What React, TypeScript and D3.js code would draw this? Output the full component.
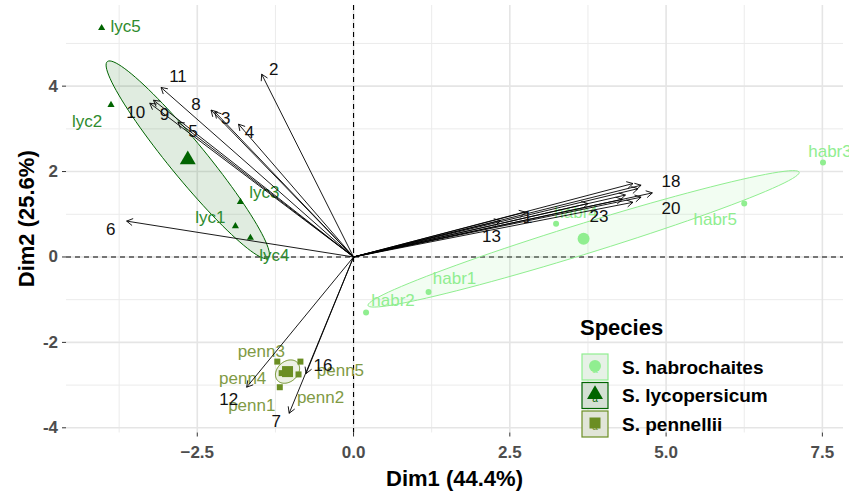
import React from "react";
import * as d3 from "d3";

const W = 849;
const H = 493;

// groups
const species = ["S. habrochaites", "S. lycopersicum", "S. pennellii"];
const speciesColors = ["#90EE90", "#006400", "#6B8E23"];

// individuals (PCA scores)
const indNames = ["habr1", "habr2", "habr3", "habr4", "habr5",
  "lyc1", "lyc2", "lyc3", "lyc4", "lyc5",
  "penn1", "penn2", "penn3", "penn4", "penn5"];
const indGroup = [0, 0, 0, 0, 0, 1, 1, 1, 1, 1, 2, 2, 2, 2, 2];
const indDim1 = [1.2, 0.2, 7.51, 3.24, 6.25, -1.89, -3.88, -1.81, -1.65, -4.03, -1.18, -0.88, -1.22, -1.15, -0.85];
const indDim2 = [-0.82, -1.3, 2.21, 0.78, 1.25, 0.72, 3.56, 1.29, 0.45, 5.36, -3.05, -2.75, -2.45, -2.72, -2.45];

// variables (arrows)
const varNames = ["1", "2", "3", "4", "5", "6", "7", "8", "9", "10", "11", "12",
  "13", "14", "15", "16", "17", "18", "19", "20", "21", "22", "23"];
const varDim1 = [2.75, -1.47, -2.22, -1.84, -2.81, -3.63, -1.03, -2.28, -3.2, -3.26, -3.08, -1.71,
  2.35, 4.35, 4.6, -0.76, 4.55, 4.47, 4.78, 4.47, 4.3, 4.6, 3.75];
const varDim2 = [1.05, 4.28, 3.4, 3.11, 3.16, 0.84, -3.66, 3.44, 3.67, 3.6, 3.97, -3.05,
  0.85, 1.45, 1.68, -2.73, 1.6, 1.72, 1.5, 1.28, 1.35, 1.4, 1.25];

const xTicks = [-2.5, 0, 2.5, 5, 7.5];
const xMinor = [-3.75, -1.25, 1.25, 3.75, 6.25];
const yTicks = [-4, -2, 0, 2, 4];
const yMinor = [-3, -1, 1, 3, 5];

// label offsets in px (repelled label placement)
const indNudge: Record<string, [number, number]> = {
  lyc5: [24, -2], lyc2: [-24, 17], lyc3: [24, -9], lyc1: [-25, -9], lyc4: [24, 18],
  habr3: [7, -11], habr5: [-29, 16], habr4: [20, -11], habr1: [26, -13], habr2: [27, -12],
  penn3: [-16, -10], penn4: [-39, 5], penn1: [-28, 18], penn2: [22, 23], penn5: [40, 9],
};
const varNudge: Record<string, [number, number]> = {
  "1": [2, 5], "2": [12, -5], "3": [11, 7], "4": [11, 8], "5": [15, 9], "6": [-16, 8],
  "7": [-13, 8], "8": [-15, -6], "9": [11, 14], "10": [-14, 9], "11": [17, -11],
  "12": [-18, 12], "13": [-9, 16], "16": [17, -8], "18": [38, -2], "20": [38, 6], "23": [11, 13],
};

const FONT = "'Liberation Sans', Arial, sans-serif";

const left = 66, right = 843, top = 5, bottom = 432.5;
const x = d3.scaleLinear().domain([-4.6, 7.83]).range([left, right]);
const y = d3.scaleLinear().domain([-4.11, 5.9]).range([bottom, top]);

function ellipse(xs: number[], ys: number[]) {
  const n = xs.length;
  const mx = d3.mean(xs)!, my = d3.mean(ys)!;
  let sxx = 0, syy = 0, sxy = 0;
  for (let i = 0; i < n; i++) {
    sxx += (xs[i] - mx) ** 2;
    syy += (ys[i] - my) ** 2;
    sxy += (xs[i] - mx) * (ys[i] - my);
  }
  sxx /= n - 1; syy /= n - 1; sxy /= n - 1;
  const r = Math.sqrt(5.991 / n);
  const a = Math.sqrt(sxx), b = sxy / a, c = Math.sqrt(Math.max(syy - b * b, 0));
  const pts: [number, number][] = d3.range(0, 100).map((i) => {
    const t = (i / 100) * Math.PI * 2;
    return [x(mx + r * a * Math.cos(t)), y(my + r * (b * Math.cos(t) + c * Math.sin(t)))];
  });
  return { path: d3.line().curve(d3.curveLinearClosed)(pts)!, mx, my };
}

function Marker({ g, cx, cy, big }: { g: number; cx: number; cy: number; big?: boolean }) {
  const col = speciesColors[g];
  if (g === 0) return <circle cx={cx} cy={cy} r={big ? 6 : 3} fill={col} />;
  if (g === 1) {
    const p = d3.symbol(d3.symbolTriangle, big ? 110 : 22)()!;
    return <path d={p} transform={`translate(${cx},${cy})`} fill={col} />;
  }
  const s = big ? 11 : 6;
  return <rect x={cx - s / 2} y={cy - s / 2} width={s} height={s} fill={col} />;
}

function Arrow({ x1, y1, x2, y2 }: { x1: number; y1: number; x2: number; y2: number }) {
  const ang = Math.atan2(y2 - y1, x2 - x1);
  const L = 7, spread = Math.PI / 6;
  const h1 = [x2 - L * Math.cos(ang - spread), y2 - L * Math.sin(ang - spread)];
  const h2 = [x2 - L * Math.cos(ang + spread), y2 - L * Math.sin(ang + spread)];
  return (
    <g stroke="#000" strokeWidth={0.9} fill="none">
      <line x1={x1} y1={y1} x2={x2} y2={y2} />
      <polyline points={`${h1[0]},${h1[1]} ${x2},${y2} ${h2[0]},${h2[1]}`} />
    </g>
  );
}

export default function App() {
  const groups = species.map((_, g) => {
    const idx = indGroup.map((v, i) => (v === g ? i : -1)).filter((i) => i >= 0);
    return ellipse(idx.map((i) => indDim1[i]), idx.map((i) => indDim2[i]));
  });

  return (
    <svg width={W} height={H} style={{ position: "absolute", left: 0, top: 0, fontFamily: FONT }}>
      <rect width={W} height={H} fill="#fff" />
      {/* grid */}
      {xMinor.map((t) => <line key={"xm" + t} x1={x(t)} x2={x(t)} y1={top} y2={bottom} stroke="#EBEBEB" strokeWidth={1} />)}
      {yMinor.map((t) => <line key={"ym" + t} y1={y(t)} y2={y(t)} x1={left} x2={right} stroke="#EBEBEB" strokeWidth={1} />)}
      {xTicks.map((t) => <line key={"x" + t} x1={x(t)} x2={x(t)} y1={top} y2={bottom} stroke="#E5E5E5" strokeWidth={1.6} />)}
      {yTicks.map((t) => <line key={"y" + t} y1={y(t)} y2={y(t)} x1={left} x2={right} stroke="#E5E5E5" strokeWidth={1.6} />)}
      {/* reference lines */}
      <line x1={x(0)} x2={x(0)} y1={top} y2={bottom} stroke="#000" strokeWidth={1.1} strokeDasharray="5,4" />
      <line y1={y(0)} y2={y(0)} x1={left} x2={right} stroke="#000" strokeWidth={1.1} strokeDasharray="5,4" />
      {/* ellipses */}
      {groups.map((e, g) => (
        <path key={"e" + g} d={e.path} fill={speciesColors[g]} fillOpacity={0.12} stroke={speciesColors[g]} strokeWidth={1} />
      ))}
      {/* individuals */}
      {indNames.map((n, i) => (
        <Marker key={"p" + n} g={indGroup[i]} cx={x(indDim1[i])} cy={y(indDim2[i])} />
      ))}
      {indNames.map((n, i) => (
        <text key={"t" + n} x={x(indDim1[i]) + indNudge[n][0]} y={y(indDim2[i]) + indNudge[n][1]}
          textAnchor="middle" dominantBaseline="central" fontSize={17}
          fill={indGroup[i] === 1 ? "#2E8B2E" : indGroup[i] === 2 ? "#7F9A45" : speciesColors[indGroup[i]]}>{n}</text>
      ))}
      {groups.map((e, g) => <Marker key={"c" + g} g={g} cx={x(e.mx)} cy={y(e.my)} big />)}
      {/* variables */}
      {varNames.map((n, i) => (
        <Arrow key={"a" + n} x1={x(0)} y1={y(0)} x2={x(varDim1[i])} y2={y(varDim2[i])} />
      ))}
      {varNames.filter((n) => varNudge[n]).map((n) => {
        const i = varNames.indexOf(n);
        return (
          <text key={"v" + n} x={x(varDim1[i]) + varNudge[n][0]} y={y(varDim2[i]) + varNudge[n][1]}
            textAnchor="middle" dominantBaseline="central" fontSize={17} fill="#111">{n}</text>
        );
      })}
      {/* axes */}
      {yTicks.map((t) => (
        <g key={"yt" + t}>
          <line x1={left - 4} x2={left} y1={y(t)} y2={y(t)} stroke="#333" strokeWidth={1} />
          <text x={left - 8} y={y(t)} textAnchor="end" dominantBaseline="central" fontSize={17} fontWeight="bold" fill="#4D4D4D">{t}</text>
        </g>
      ))}
      {xTicks.map((t) => (
        <g key={"xt" + t}>
          <line x1={x(t)} x2={x(t)} y1={bottom} y2={bottom + 4} stroke="#333" strokeWidth={1} />
          <text x={x(t)} y={452} textAnchor="middle" dominantBaseline="central" fontSize={17} fontWeight="bold" fill="#4D4D4D">{d3.format(".1f")(t)}</text>
        </g>
      ))}
      <text x={(left + right) / 2} y={486} textAnchor="middle" fontSize={22} fontWeight="bold">Dim1 (44.4%)</text>
      <text transform={`translate(34,${(top + bottom) / 2}) rotate(-90)`} textAnchor="middle" fontSize={22} fontWeight="bold">Dim2 (25.6%)</text>
      {/* legend */}
      <text x={580} y={335} fontSize={22} fontWeight="bold">Species</text>
      {species.map((s, g) => {
        const ky = 354 + g * 28.5;
        return (
          <g key={"l" + g}>
            <rect x={582} y={ky} width={26} height={26} fill="#F2F2F2" />
            <rect x={582} y={ky} width={26} height={26} fill={speciesColors[g]} fillOpacity={0.12} stroke={speciesColors[g]} strokeWidth={1.2} />
            <text x={595} y={ky + 19} textAnchor="middle" fontSize={10} fill={speciesColors[g]}>a</text>
            <Marker g={g} cx={595} cy={ky + 12} big />
            <text x={622} y={ky + 13} dominantBaseline="central" fontSize={19} fontWeight="bold">{s}</text>
          </g>
        );
      })}
    </svg>
  );
}
